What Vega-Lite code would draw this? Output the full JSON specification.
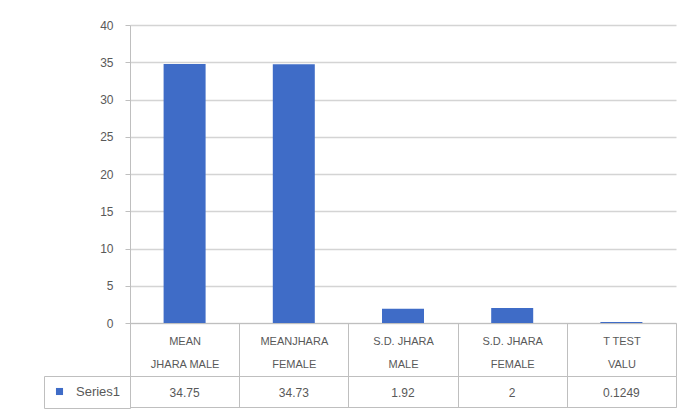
{
  "$schema": "https://vega.github.io/schema/vega-lite/v6.json",
  "padding": {"left": 43, "top": 19, "right": 0, "bottom": 0},
  "background": "white",
  "config": {
    "font": "Liberation Sans",
    "axis": {"labelFont": "Liberation Sans", "labelColor": "#595959"},
    "legend": {"labelFont": "Liberation Sans"}
  },
  "datasets": {
    "stats": [
      {"category": "MEAN JHARA MALE", "value": 34.75, "series": "Series1"},
      {"category": "MEANJHARA FEMALE", "value": 34.73, "series": "Series1"},
      {"category": "S.D. JHARA MALE", "value": 1.92, "series": "Series1"},
      {"category": "S.D. JHARA FEMALE", "value": 2, "series": "Series1"},
      {"category": "T TEST VALU", "value": 0.1249, "series": "Series1"}
    ]
  },
  "bounds": "flush",
  "spacing": 53,
  "resolve": {"scale": {"color": "independent", "x": "independent"}, "legend": {"color": "independent"}},
  "vconcat": [
    {
      "width": 546,
      "height": 298,
      "view": {"stroke": null},
      "data": {"name": "stats"},
      "mark": {"type": "bar", "size": 42, "color": "#3F6CC7"},
      "encoding": {
        "x": {
          "field": "category",
          "type": "nominal",
          "sort": null,
          "title": null,
          "scale": {"paddingInner": 0, "paddingOuter": 0},
          "axis": {
            "labelAngle": 0,
            "labelExpr": "datum.label == 'MEAN JHARA MALE' ? ['MEAN', 'JHARA MALE'] : [substring(datum.label, 0, lastindexof(datum.label, ' ')), substring(datum.label, lastindexof(datum.label, ' ') + 1)]",
            "labelFontSize": 11,
            "labelLineHeight": 23,
            "labelBaseline": "top",
            "labelPadding": -41,
            "labelOverlap": false,
            "tickBand": "extent",
            "tickSize": 53,
            "tickColor": "#BFBFBF",
            "domainColor": "#BFBFBF",
            "labelColor": "#595959"
          }
        },
        "y": {
          "field": "value",
          "type": "quantitative",
          "title": null,
          "scale": {"domain": [0, 40], "nice": false},
          "axis": {
            "values": [0, 5, 10, 15, 20, 25, 30, 35, 40],
            "grid": true,
            "gridColor": "#D4D4D4",
            "gridWidth": 1.5,
            "domain": true,
            "domainColor": "#BFBFBF",
            "tickColor": "#BFBFBF",
            "tickSize": 5,
            "labelPadding": 12,
            "labelFontSize": 12,
            "labelColor": "#595959"
          }
        }
      }
    },
    {
      "width": 546,
      "height": 31,
      "view": {"stroke": "#BFBFBF"},
      "data": {"name": "stats"},
      "encoding": {
        "x": {
          "field": "category",
          "type": "nominal",
          "sort": null,
          "title": null,
          "scale": {"paddingInner": 0, "paddingOuter": 0},
          "axis": {
            "grid": true,
            "gridColor": "#BFBFBF",
            "tickBand": "extent",
            "labels": false,
            "ticks": false,
            "domain": false
          }
        }
      },
      "layer": [
        {
          "mark": {"type": "text", "fontSize": 12, "color": "#595959", "dy": 1},
          "encoding": {"text": {"field": "value", "type": "nominal"}}
        },
        {
          "mark": {"type": "text"},
          "encoding": {
            "text": {"value": ""},
            "color": {
              "field": "series",
              "type": "nominal",
              "scale": {"range": ["#3F6CC7"]},
              "legend": {
                "title": null,
                "orient": "left",
                "offset": 0,
                "strokeColor": "#BFBFBF",
                "padding": 9,
                "symbolType": "square",
                "symbolSize": 50,
                "symbolStrokeWidth": 0,
                "labelOffset": 10,
                "labelFontSize": 13,
                "labelColor": "#595959"
              }
            }
          }
        }
      ]
    }
  ]
}
